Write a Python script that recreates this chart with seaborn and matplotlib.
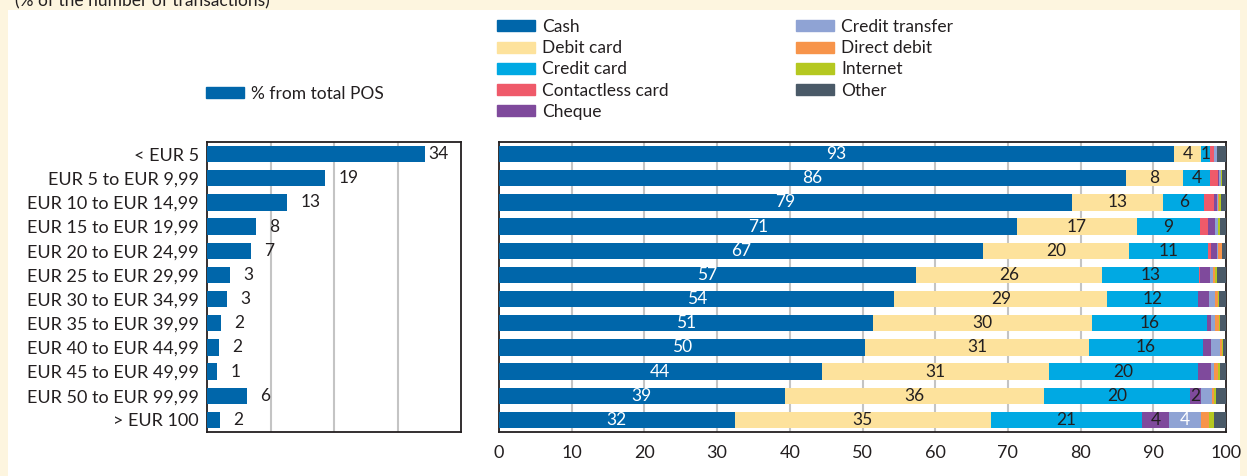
import numpy as np
import pandas as pd
import matplotlib
matplotlib.use("Agg")
import matplotlib.pyplot as plt
import seaborn as sns
from matplotlib.patches import Patch, Rectangle

# -------------------
# Data
# -------------------
brackets = ["< EUR 5", "EUR 5 to EUR 9,99", "EUR 10 to EUR 14,99", "EUR 15 to EUR 19,99",
            "EUR 20 to EUR 24,99", "EUR 25 to EUR 29,99", "EUR 30 to EUR 34,99",
            "EUR 35 to EUR 39,99", "EUR 40 to EUR 44,99", "EUR 45 to EUR 49,99",
            "EUR 50 to EUR 99,99", "> EUR 100"]

# share of all POS transactions per bracket
pos_share = [34.4, 18.6, 12.6, 7.7, 6.9, 3.6, 3.1, 2.2, 1.9, 1.6, 6.3, 2.0]
pos_labels = ["34", "19", "13", "8", "7", "3", "3", "2", "2", "1", "6", "2"]

# payment instrument breakdown per bracket
cash = [92.9, 86.2, 78.8, 71.2, 66.6, 57.3, 54.4, 51.4, 50.4, 44.4, 39.3, 32.4]
debit_card = [3.7, 7.9, 12.6, 16.6, 20.1, 25.7, 29.3, 30.1, 30.8, 31.3, 35.7, 35.3]
credit_card = [1.2, 3.7, 5.6, 8.6, 10.8, 13.3, 12.4, 15.9, 15.6, 20.4, 20.0, 20.7]
contactless = [0.5, 1.1, 1.4, 1.1, 0.5, 0.1, 0.0, 0.0, 0.0, 0.0, 0.0, 0.0]
cheque = [0.1, 0.2, 0.3, 1.0, 0.7, 1.4, 1.6, 0.5, 1.1, 1.9, 1.6, 3.8]
credit_transfer = [0.3, 0.15, 0.2, 0.4, 0.2, 0.4, 0.8, 0.6, 1.3, 0.3, 1.5, 4.4]
direct_debit = [0.05, 0.05, 0.2, 0.05, 0.5, 0.3, 0.4, 0.5, 0.3, 0.6, 0.3, 1.1]
internet = [0.05, 0.2, 0.2, 0.25, 0.1, 0.2, 0.2, 0.2, 0.15, 0.3, 0.2, 0.7]
other = [1.2, 0.5, 0.7, 0.8, 0.5, 1.3, 0.9, 0.8, 0.4, 0.8, 1.4, 1.6]

instruments = ["Cash", "Debit card", "Credit card", "Contactless card", "Cheque",
               "Credit transfer", "Direct debit", "Internet", "Other"]
colors = ["#0066aa", "#fde29c", "#00a9e3", "#ef5a6a", "#7f4a9c",
          "#8fa3d4", "#f7944a", "#b5c820", "#4a5a68"]

# which small segments carry a value label (row, instrument)
extra_labels = [(10, "Cheque"), (11, "Cheque"), (11, "Credit transfer")]

df = pd.DataFrame({
    "Cash": cash, "Debit card": debit_card, "Credit card": credit_card,
    "Contactless card": contactless, "Cheque": cheque,
    "Credit transfer": credit_transfer, "Direct debit": direct_debit,
    "Internet": internet, "Other": other,
}, index=brackets)
cum = df.cumsum(axis=1)

# -------------------
# Figure
# -------------------
sns.set_style("white")
plt.rcParams["font.family"] = ["Lato", "DejaVu Sans"]
plt.rcParams["font.size"] = 12.5
text_col = "#231f20"
grid_col = "#c4c4c4"

fig = plt.figure(figsize=(12.47, 4.76), dpi=100)
fig.patch.set_facecolor("#fdf5df")
fig.patches.append(Rectangle((8 / 1247, 0), 1232 / 1247, 466 / 476, transform=fig.transFigure,
                             facecolor="white", edgecolor="none", zorder=-10))
fig.text(15 / 1247, 1 - 1 / 476, "(% of the number of transactions)", ha="left", va="center",
         fontsize=12.5, color=text_col)

ax1 = fig.add_axes([207 / 1247, 44 / 476, 254 / 1247, 290 / 476])
ax2 = fig.add_axes([499 / 1247, 44 / 476, 727 / 1247, 290 / 476])

# -------------------
# Left panel: share of POS transactions
# -------------------
sns.barplot(x=pos_share, y=brackets, color=colors[0], saturation=1, width=0.68,
            linewidth=0, orient="h", ax=ax1, zorder=3)
ax1.set_xlim(0, 40)
ax1.set_ylim(11.5, -0.5)
for v in [10, 20, 30]:
    ax1.axvline(v, color=grid_col, lw=1.5, zorder=1)
ax1.set_xticks([])
for i, (v, lab) in enumerate(zip(pos_share, pos_labels)):
    off = 2 if v > 30 else 9.5
    ax1.annotate(lab, (v, i), xytext=(off, 0), textcoords="offset points",
                 ha="left", va="center", fontsize=12.5, color=text_col)

# -------------------
# Right panel: stacked instrument shares
# -------------------
for name, col in zip(reversed(instruments), reversed(colors)):
    sns.barplot(x=cum[name].values, y=brackets, color=col, saturation=1, width=0.68,
                linewidth=0, orient="h", ax=ax2, zorder=3)
ax2.set_xlim(0, 100)
ax2.set_ylim(11.5, -0.5)
ax2.set_xticks(np.arange(0, 101, 10))
for v in range(10, 100, 10):
    ax2.axvline(v, color=grid_col, lw=1.5, zorder=1)
ax2.set_yticks([])

for i in range(len(brackets)):
    for name in instruments:
        show = name in ["Cash", "Debit card", "Credit card"] or (i, name) in extra_labels
        if not show:
            continue
        val = df.loc[brackets[i], name]
        center = cum.loc[brackets[i], name] - val / 2
        white = name == "Cash" or (name == "Credit transfer")
        ax2.text(center, i, f"{round(val):d}", ha="center", va="center", fontsize=12.5,
                 color="white" if white else text_col, zorder=5)

for ax in (ax1, ax2):
    ax.set_xlabel("")
    ax.set_ylabel("")
    for s in ax.spines.values():
        s.set_visible(True)
        s.set_color(text_col)
        s.set_linewidth(1.3)
    ax.tick_params(axis="both", length=0, labelsize=12.5, colors=text_col, pad=8)
ax1.tick_params(axis="y", pad=6, labelsize=13)
ax2.tick_params(axis="x", pad=9, labelsize=13)

# -------------------
# Legends
# -------------------
leg_kw = dict(frameon=False, fontsize=12.5, handlelength=2.2, handleheight=0.6,
              handletextpad=0.4, labelspacing=0.3, borderaxespad=0, borderpad=0,
              labelcolor=text_col)
fig.legend([Patch(color=colors[0])], ["% from total POS"], loc="upper left",
           bbox_to_anchor=(206 / 1247, 1 - 86 / 476), **leg_kw)
h = [Patch(color=c) for c in colors]
fig.legend(h[:5], instruments[:5], loc="upper left",
           bbox_to_anchor=(497 / 1247, 1 - 19 / 476), **leg_kw)
fig.legend(h[5:], instruments[5:], loc="upper left",
           bbox_to_anchor=(796 / 1247, 1 - 19 / 476), **leg_kw)

fig.savefig("out.png", dpi=100, facecolor=fig.get_facecolor())
